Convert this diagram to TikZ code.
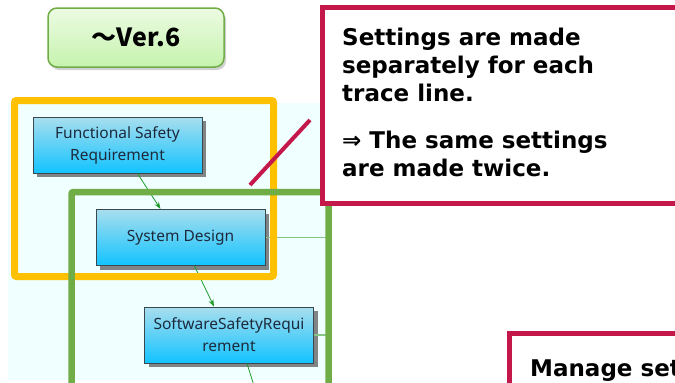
\documentclass[tikz,border=0pt]{standalone}
\usepackage{fontspec}
\usepackage{xcolor}
\usepackage{tikz}
\usetikzlibrary{positioning,calc,shadows,arrows.meta}
\setsansfont{Noto Sans}
\newfontfamily\jpfont{Noto Sans CJK JP}
\newfontfamily\notefont{DejaVu Sans}

\definecolor{frameorange}{HTML}{FFC000}
\definecolor{framegreen}{HTML}{70AD47}
\definecolor{calloutred}{HTML}{C4184A}
\definecolor{paleback}{HTML}{F0FFFF}
\definecolor{tracegreen}{HTML}{1E9A2A}
\definecolor{sidegreen}{HTML}{86C586}
\definecolor{nodeedge}{HTML}{3A4850}
\definecolor{nodetop}{HTML}{A8DEEE}
\definecolor{nodebottom}{HTML}{12C3FF}
\definecolor{nodetext}{HTML}{1C2A3C}
\definecolor{vertop}{HTML}{ECFBE2}
\definecolor{verbottom}{HTML}{C6F3AE}

\tikzset{
    reqbox/.style={draw=nodeedge, line width=1pt, top color=nodetop, bottom color=nodebottom,
        minimum width=169pt, minimum height=56pt, align=center, text=nodetext,
        font=\sffamily\fontsize{15.5}{22}\selectfont,
        drop shadow={shadow xshift=4pt, shadow yshift=-4pt, fill=black!60, opacity=0.8}},
    tracearrow/.style={draw=tracegreen, line width=0.8pt, -{Stealth[length=7pt,width=5pt]}},
    sideline/.style={draw=sidegreen, line width=1.2pt},
    calloutbox/.style={draw=calloutred, line width=5pt, fill=white},
    callouttext/.style={font=\notefont\bfseries\fontsize{23}{28}\selectfont, align=left, inner sep=0pt}
}

\begin{document}
\begin{tikzpicture}[x=1pt, y=-1pt]
    \useasboundingbox (0,0) rectangle (675,383);
    \clip (0,0) rectangle (675,383);

    % pale background of the trace view
    \fill [paleback] (8,103) rectangle (326,380);

    % version label
    \node (ver) [draw=framegreen, line width=1.5pt, rounded corners=9pt, top color=vertop, bottom color=verbottom,
        minimum width=176pt, minimum height=59pt, font=\jpfont\bfseries\fontsize{25}{30}\selectfont,
        drop shadow={shadow xshift=2pt, shadow yshift=-3pt, fill=black!30, opacity=0.6}]
        at (136,37.5) {～Ver.6};

    % requirement nodes
    \node (fsr) [reqbox] at (117.5,145) {Functional Safety\\Requirement};
    \node (sd)  [reqbox] at (180.5,237.5) {System Design};
    \node (ssr) [reqbox] at (229,335) {SoftwareSafetyRequi\\rement};

    % trace arrows
    \draw [tracearrow] ([xshift=20pt]fsr.south) -- ([xshift=-20pt]sd.north);
    \draw [tracearrow] ([xshift=14pt]sd.south) -- ([xshift=-15pt]ssr.north);
    \coordinate (below) at (256,392);
    \draw [draw=tracegreen, line width=0.8pt] ([xshift=18pt]ssr.south) -- (below);

    % side links
    \coordinate (sdside) at (328,237.5);
    \coordinate (ssrside) at (328,335);
    \draw [sideline] (sd.east) -- (sdside);
    \draw [sideline] (ssr.east) -- (ssrside);

    % trace line frames
    \draw [frameorange, line width=7pt, rounded corners=2pt] (14.5,100.5) rectangle (273.5,276.5);
    \draw [framegreen, line width=6.5pt, rounded corners=2pt] (71.5,192) rectangle (328.5,392);

    % pointer to the callout
    \coordinate (ptrfoot) at (250,185);
    \coordinate (ptrhead) at (310,120);
    \draw [calloutred, line width=4pt] (ptrfoot) -- (ptrhead);

    % callouts
    \draw [calloutbox] (322.5,7.5) rectangle (700,203);
    \node (note) [callouttext, anchor=north west] at (342,27.5) {Settings are made\\separately for each\\trace line.\\[19pt]⇒ The same settings\\are made twice.};

    \draw [calloutbox] (509.5,333.5) rectangle (700,420);
    \node (manage) [callouttext, anchor=base west] at (530,376) {Manage set};
\end{tikzpicture}
\end{document}
